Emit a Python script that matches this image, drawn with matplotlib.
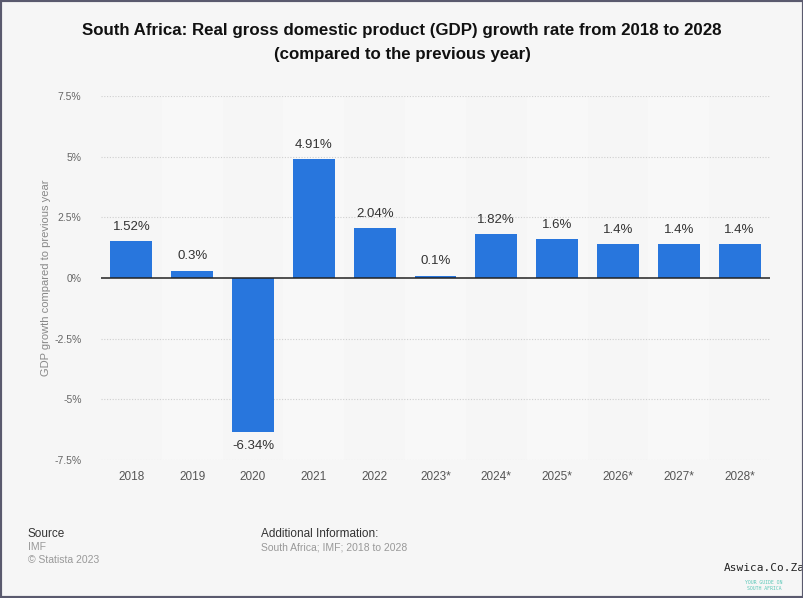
import matplotlib
matplotlib.use("Agg")
import matplotlib.pyplot as plt
from matplotlib.patches import Rectangle
import numpy as np

plt.rcParams['font.family'] = ['Liberation Sans', 'DejaVu Sans']

years = ["2018", "2019", "2020", "2021", "2022", "2023*", "2024*", "2025*", "2026*", "2027*", "2028*"]
growth = [1.52, 0.3, -6.34, 4.91, 2.04, 0.1, 1.82, 1.6, 1.4, 1.4, 1.4]
value_labels = ["1.52%", "0.3%", "-6.34%", "4.91%", "2.04%", "0.1%", "1.82%", "1.6%", "1.4%", "1.4%", "1.4%"]
yticks = [-7.5, -5, -2.5, 0, 2.5, 5, 7.5]
ytick_labels = ["-7.5%", "-5%", "-2.5%", "0%", "2.5%", "5%", "7.5%"]

W, H = 804, 598
bg = "#f6f6f6"
fig = plt.figure(figsize=(W / 100, H / 100), dpi=100, facecolor=bg)

# plot area in pixels
x0, x1 = 101, 770
y_top, y_bot = 96, 460
ax = fig.add_axes([x0 / W, 1 - y_bot / H, (x1 - x0) / W, (y_bot - y_top) / H])
ax.set_facecolor(bg)

x = np.arange(len(years))
ax.set_xlim(-0.5, len(years) - 0.5)
ax.set_ylim(-7.5, 7.5)

# subtle alternating column shading
for i in x:
    if i % 2 == 1:
        ax.axvspan(i - 0.5, i + 0.5, color="#f8f8f8", zorder=0, lw=0)

for t in yticks:
    if t != 0:
        ax.axhline(t, color="#cfcfcf", lw=0.8, ls=(0, (1, 1.5)), zorder=1)

ax.bar(x, growth, width=0.69, color="#2876DD", zorder=2)
ax.axhline(0, color="#222222", lw=1.1, zorder=3)

for xi, v, lab in zip(x, growth, value_labels):
    if v >= 0:
        ax.annotate(lab, (xi, v), xytext=(0, 6), textcoords="offset points",
                    ha="center", va="bottom", fontsize=9.5, color="#333333")
    else:
        ax.annotate(lab, (xi, v), xytext=(0, -6), textcoords="offset points",
                    ha="center", va="top", fontsize=9.5, color="#333333")

ax.set_xticks(x)
ax.set_xticklabels(years, fontsize=8.5, color="#555555")
ax.set_yticks(yticks)
ax.set_yticklabels(ytick_labels, fontsize=7.5, color="#666666")
ax.tick_params(axis="both", length=0)
ax.tick_params(axis="x", pad=8)
ax.tick_params(axis="y", pad=14)
for s in ax.spines.values():
    s.set_visible(False)
ax.set_ylabel("GDP growth compared to previous year", fontsize=8, color="#888888")
ax.yaxis.set_label_coords(-0.074, 0.5)

# title
fig.text(0.5, 1 - 30 / H, "South Africa: Real gross domestic product (GDP) growth rate from 2018 to 2028",
         ha="center", va="center", fontsize=12.2, fontweight="bold", color="#111111")
fig.text(0.5, 1 - 55 / H, "(compared to the previous year)",
         ha="center", va="center", fontsize=12.2, fontweight="bold", color="#111111")

# footer
fig.text(28 / W, 1 - 534 / H, "Source", ha="left", va="center", fontsize=8.5, color="#333333")
fig.text(28 / W, 1 - 547 / H, "IMF", ha="left", va="center", fontsize=7.5, color="#999999")
fig.text(28 / W, 1 - 560 / H, "© Statista 2023", ha="left", va="center", fontsize=7.5, color="#999999")
fig.text(261 / W, 1 - 534 / H, "Additional Information:", ha="left", va="center", fontsize=8.5, color="#333333")
fig.text(261 / W, 1 - 547 / H, "South Africa; IMF; 2018 to 2028", ha="left", va="center", fontsize=7.5, color="#999999")

# watermark text
fig.text(764 / W, 1 - 568 / H, "Aswica.Co.Za", ha="center", va="center", fontsize=8,
         family="DejaVu Sans Mono", color="#222222")
fig.text(764 / W, 1 - 582 / H, "YOUR GUIDE ON", ha="center", va="center", fontsize=3.5,
         family="DejaVu Sans Mono", color="#5cc8b8")
fig.text(764 / W, 1 - 589 / H, "SOUTH AFRICA", ha="center", va="center", fontsize=3.5,
         family="DejaVu Sans Mono", color="#5cc8b8")

# border frame
fig.patches.append(Rectangle((0, 0), 1, 1, transform=fig.transFigure, fill=False,
                             edgecolor="#5a5a6e", lw=3, zorder=10))

fig.savefig("out.png", dpi=100, facecolor=bg)
